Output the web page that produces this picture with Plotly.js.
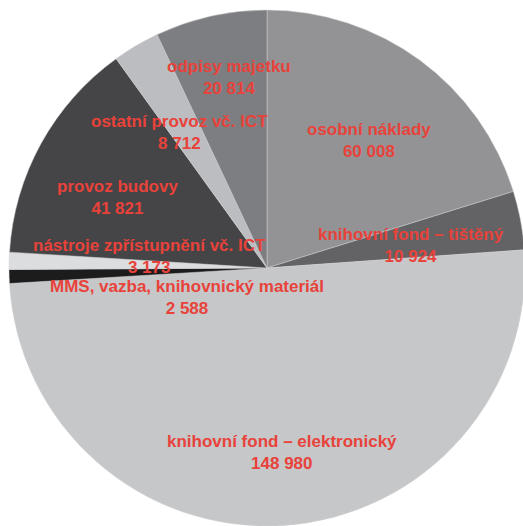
<!DOCTYPE html>
<html>
<head>
<meta charset="utf-8">
<script src="https://cdn.plot.ly/plotly-3.0.1.min.js"></script>
<style>
html,body{margin:0;padding:0;overflow:hidden;background:#fff;width:523px;height:526px;}
#chart{width:540px;height:540px;}
</style>
</head>
<body>
<div id="chart"></div>
<script>
const categories = [
  "osobní náklady",
  "knihovní fond – tištěný",
  "knihovní fond – elektronický",
  "MMS, vazba, knihovnický materiál",
  "nástroje zpřístupnění vč. ICT",
  "provoz budovy",
  "ostatní provoz vč. ICT",
  "odpisy majetku"
];
const values = [60008, 10924, 148980, 2588, 3173, 41821, 8712, 20814];
const colors = ["#939396", "#636366", "#c6c7c9", "#1c1c1c", "#dcdddf", "#454547", "#bcbdc0", "#7d7e81"];
// label placement (pixel positions of label centres on the page)
const labelPx = [
  [369, 140], [411, 245], [282, 452], [187, 297],
  [149, 256], [117, 197], [179, 133], [229, 78]
];

const W = 540, H = 540;
function fmt(v){ return String(v).replace(/\B(?=(\d{3})+(?!\d))/g, " "); }

const annotations = categories.map((c, i) => ({
  text: c + "<br>" + fmt(values[i]),
  x: labelPx[i][0] / W,
  y: 1 - labelPx[i][1] / H,
  xref: "paper", yref: "paper",
  xanchor: "center", yanchor: "middle",
  showarrow: false,
  font: {family: "Liberation Sans, Arial, sans-serif", size: 17, color: "#e8423a", weight: "bold"}
}));

const trace = {
  type: "pie",
  labels: categories,
  values: values,
  sort: false,
  direction: "clockwise",
  rotation: 0,
  textinfo: "none",
  hoverinfo: "label+value",
  marker: {colors: colors, line: {color: "#d0d0d2", width: 0.5}},
  domain: {x: [9 / W, 525 / W], y: [14 / H, 530 / H]}
};

Plotly.newPlot("chart", [trace], {
  width: W, height: H,
  margin: {l: 0, r: 0, t: 0, b: 0},
  showlegend: false,
  paper_bgcolor: "#ffffff",
  annotations: annotations
}, {displayModeBar: false, staticPlot: true});
</script>
</body>
</html>
